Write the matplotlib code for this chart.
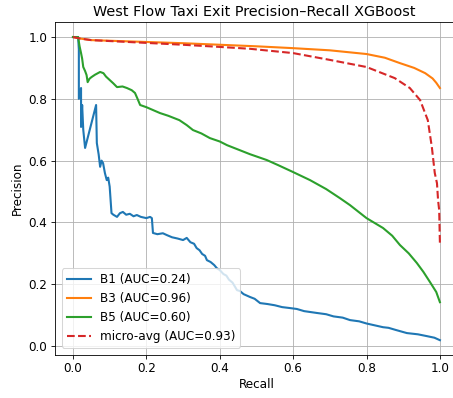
import matplotlib
matplotlib.use("Agg")
import matplotlib.pyplot as plt

# Precision-recall points per class (recall, precision)
b1_recall = [0.0, 0.014, 0.016, 0.016, 0.022, 0.022, 0.025, 0.028, 0.033, 0.063, 0.065,
             0.070, 0.074, 0.078, 0.082, 0.087, 0.092, 0.096, 0.100, 0.105, 0.110, 0.120,
             0.128, 0.136, 0.145, 0.155, 0.165, 0.174, 0.185, 0.200, 0.210, 0.215, 0.218,
             0.230, 0.245, 0.256, 0.270, 0.285, 0.300, 0.310, 0.320, 0.330, 0.337, 0.345,
             0.352, 0.360, 0.365, 0.375, 0.385, 0.392, 0.400, 0.410, 0.418, 0.425, 0.435,
             0.447, 0.455, 0.465, 0.482, 0.495, 0.510, 0.530, 0.550, 0.570, 0.591, 0.610,
             0.630, 0.665, 0.690, 0.710, 0.735, 0.755, 0.780, 0.800, 0.845, 0.860, 0.880,
             0.910, 0.940, 0.965, 0.985, 1.0]
b1_precision = [1.0, 1.0, 0.96, 0.80, 0.835, 0.709, 0.78, 0.70, 0.641, 0.78, 0.657,
                0.62, 0.58, 0.60, 0.592, 0.56, 0.537, 0.545, 0.516, 0.43, 0.425, 0.418,
                0.430, 0.434, 0.425, 0.428, 0.420, 0.424, 0.418, 0.414, 0.418, 0.414, 0.366,
                0.362, 0.365, 0.359, 0.352, 0.348, 0.343, 0.350, 0.336, 0.331, 0.317, 0.310,
                0.298, 0.292, 0.278, 0.272, 0.262, 0.252, 0.246, 0.233, 0.228, 0.215, 0.205,
                0.181, 0.178, 0.168, 0.159, 0.153, 0.139, 0.136, 0.132, 0.126, 0.123, 0.120,
                0.113, 0.107, 0.103, 0.096, 0.092, 0.084, 0.080, 0.073, 0.061, 0.059, 0.052,
                0.042, 0.038, 0.032, 0.027, 0.019]

b3_recall = [0.0, 0.02, 0.05, 0.1, 0.15, 0.2, 0.3, 0.4, 0.5, 0.6, 0.7, 0.8, 0.85, 0.89,
             0.93, 0.96, 0.98, 0.99, 1.0]
b3_precision = [1.0, 0.995, 0.99, 0.988, 0.986, 0.984, 0.980, 0.975, 0.970, 0.964, 0.957,
                0.945, 0.933, 0.916, 0.900, 0.883, 0.866, 0.852, 0.835]

b5_recall = [0.0, 0.014, 0.018, 0.022, 0.025, 0.028, 0.033, 0.037, 0.040, 0.045, 0.050,
             0.060, 0.074, 0.083, 0.090, 0.100, 0.110, 0.120, 0.135, 0.147, 0.160, 0.169,
             0.176, 0.183, 0.200, 0.237, 0.260, 0.290, 0.310, 0.327, 0.350, 0.373, 0.400,
             0.420, 0.450, 0.482, 0.528, 0.560, 0.600, 0.646, 0.690, 0.727, 0.755, 0.800,
             0.845, 0.870, 0.891, 0.915, 0.937, 0.955, 0.973, 0.990, 1.0]
b5_precision = [1.0, 1.0, 0.97, 0.948, 0.93, 0.903, 0.89, 0.877, 0.854, 0.865, 0.870,
                0.878, 0.887, 0.883, 0.872, 0.861, 0.850, 0.838, 0.840, 0.835, 0.828, 0.819,
                0.800, 0.780, 0.773, 0.754, 0.745, 0.731, 0.715, 0.699, 0.688, 0.673, 0.662,
                0.650, 0.636, 0.621, 0.602, 0.585, 0.563, 0.537, 0.508, 0.479, 0.456, 0.414,
                0.382, 0.357, 0.327, 0.300, 0.269, 0.240, 0.207, 0.175, 0.142]

micro_recall = [0.0, 0.02, 0.05, 0.1, 0.2, 0.3, 0.4, 0.482, 0.6, 0.7, 0.8, 0.877, 0.918,
                0.946, 0.967, 0.978, 0.986, 0.992, 0.995, 0.998, 1.0]
micro_precision = [1.0, 0.995, 0.99, 0.987, 0.981, 0.975, 0.968, 0.962, 0.948, 0.926, 0.903,
                   0.867, 0.835, 0.796, 0.731, 0.644, 0.56, 0.527, 0.472, 0.44, 0.333]

labels = ["B1 (AUC=0.24)", "B3 (AUC=0.96)", "B5 (AUC=0.60)", "micro-avg (AUC=0.93)"]

plt.rcParams["font.size"] = 11.5

fig = plt.figure(figsize=(453 / 75, 398 / 75), dpi=75)
# axes run slightly past the right edge of the canvas
ax = fig.add_axes([0.1206, 0.108, 0.891, 0.837])

ax.plot(b1_recall, b1_precision, color="#1f77b4", lw=2, label=labels[0])
ax.plot(b3_recall, b3_precision, color="#ff7f0e", lw=2, label=labels[1])
ax.plot(b5_recall, b5_precision, color="#2ca02c", lw=2, label=labels[2])
ax.plot(micro_recall, micro_precision, color="#d62728", lw=2, ls="--", label=labels[3])

ax.set_xlim(-0.05, 1.05)
ax.set_ylim(-0.029, 1.049)
ax.set_xlabel("Recall", labelpad=3)
ax.set_ylabel("Precision", labelpad=4)
ax.set_title("West Flow Taxi Exit Precision\u2013Recall XGBoost", fontsize=13.8, x=0.495)
ax.grid(True)
ax.legend(loc="lower left", borderaxespad=0.6)

fig.savefig("out.png", dpi=75)
